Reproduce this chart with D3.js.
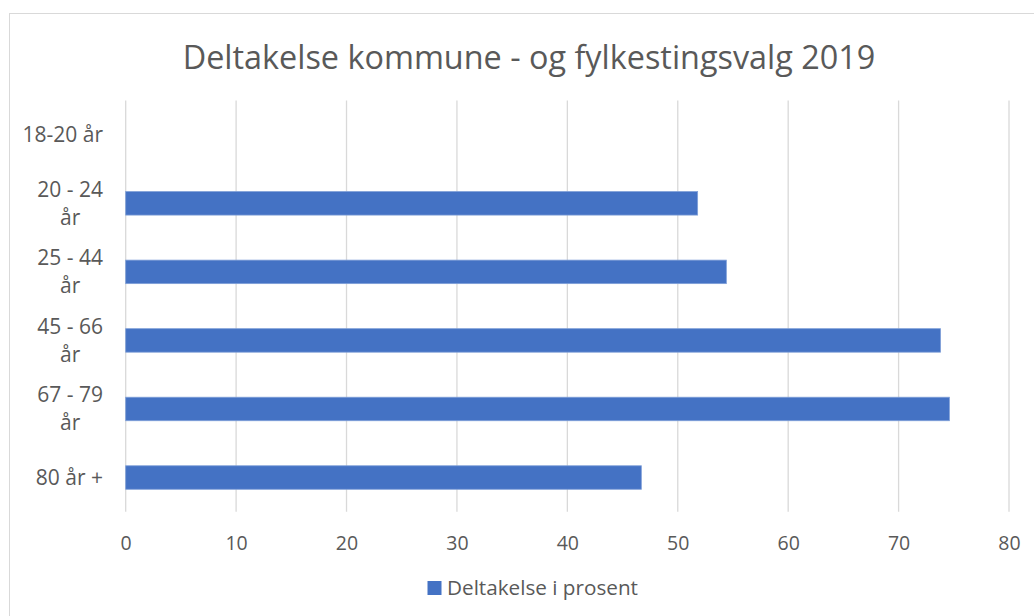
<!DOCTYPE html>
<html>
<head>
<meta charset="utf-8">
<script src="https://cdn.jsdelivr.net/npm/d3@7"></script>
<style>
  html, body { margin: 0; padding: 0; background: #fff; }
  svg { display: block; }
  text { font-family: "Open Sans", "Noto Sans", sans-serif; fill: #595959; }
</style>
</head>
<body>
<svg id="chart" width="1034" height="616"></svg>
<script>
const title = "Deltakelse kommune - og fylkestingsvalg 2019";
const categories = [["18-20 år"], ["20 - 24", "år"], ["25 - 44", "år"], ["45 - 66", "år"], ["67 - 79", "år"], ["80 år +"]];
const categoryKeys = ["18-20 år", "20 - 24 år", "25 - 44 år", "45 - 66 år", "67 - 79 år", "80 år +"];
const values = [null, 51.8, 54.4, 73.8, 74.6, 46.7];
const xTicks = [0, 10, 20, 30, 40, 50, 60, 70, 80];
const seriesName = "Deltakelse i prosent";

const svg = d3.select("#chart");
const m = { left: 125.7, right: 1009, top: 100.5, bottom: 511.8 };

// chart border
svg.append("rect").attr("x", 9.5).attr("y", 13.5).attr("width", 1100).attr("height", 700)
  .attr("fill", "#fff").attr("stroke", "#d9d9d9").attr("stroke-width", 1);

const x = d3.scaleLinear().domain([0, 80]).range([m.left, m.right]);
const y = d3.scaleBand().domain(categoryKeys).range([m.top, m.bottom]).paddingInner(0.657).paddingOuter(0.3285);

// gridlines
svg.append("g").selectAll("line").data(xTicks).join("line")
  .attr("x1", d => x(d)).attr("x2", d => x(d))
  .attr("y1", m.top).attr("y2", m.bottom)
  .attr("stroke", "#d9d9d9").attr("stroke-width", 1.3);

// x axis labels
const xAxis = d3.axisBottom(x).tickValues(xTicks).tickSize(0).tickPadding(0);
const gx = svg.append("g").attr("transform", `translate(0,${m.bottom})`).call(xAxis);
gx.select(".domain").remove();
gx.selectAll("text").attr("dy", null).attr("y", 38.5)
  .style("font-size", "19.5px").style("font-family", '"Open Sans", sans-serif').attr("fill", "#595959");

// bars
const data = categoryKeys.map((k, i) => ({ k, v: values[i] })).filter(d => d.v != null);
svg.append("g").selectAll("rect").data(data).join("rect")
  .attr("x", x(0)).attr("y", d => y(d.k))
  .attr("width", d => x(d.v) - x(0)).attr("height", y.bandwidth())
  .attr("fill", "#4472C4").attr("stroke", "#7f9fd8").attr("stroke-width", 0.8);

// category labels
const labelRight = 103;
const lineH = 28;
categoryKeys.forEach((k, i) => {
  const lines = categories[i];
  const cy = y(k) + y.bandwidth() / 2;
  const g = svg.append("g");
  const texts = lines.map((ln, j) => g.append("text")
    .attr("y", cy + (j - (lines.length - 1) / 2) * lineH)
    .attr("dy", "0.35em")
    .attr("text-anchor", "middle")
    .style("font-size", "21px")
    .text(ln));
  const maxW = d3.max(texts, t => t.node().getComputedTextLength());
  texts.forEach(t => t.attr("x", labelRight - maxW / 2));
});

// title fitted to width
const tt = svg.append("text").attr("x", 529).attr("y", 69).attr("text-anchor", "middle")
  .style("font-size", "30px").text(title);
const tw = tt.node().getComputedTextLength();
tt.style("font-size", (30 * 693 / tw) + "px");

// legend
svg.append("rect").attr("x", 427.5).attr("y", 581).attr("width", 14).attr("height", 14).attr("fill", "#4472C4");
const lt = svg.append("text").attr("x", 447).attr("y", 588).attr("dy", "0.35em")
  .style("font-size", "19px").text(seriesName);
const lw = lt.node().getComputedTextLength();
lt.style("font-size", (19 * 191 / lw) + "px");
</script>
</body>
</html>
